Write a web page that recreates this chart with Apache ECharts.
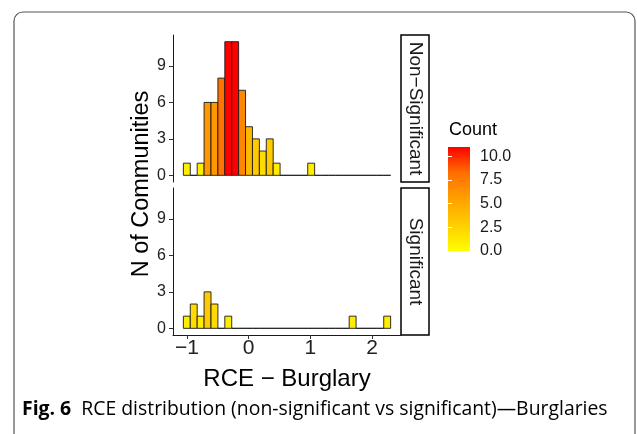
<!DOCTYPE html>
<html>
<head>
<meta charset="utf-8">
<script src="https://cdn.jsdelivr.net/npm/echarts@6/dist/echarts.min.js"></script>
<style>html,body{margin:0;padding:0;background:#fff}#c{width:637px;height:434px}</style>
</head>
<body>
<div id="c"></div>
<script>
// ---- data ----
const binStart = -1.057;
const binWidth = 0.1119;
const countsNonSig = [1,0,1,6,6,8,11,11,7,4,3,2,3,1,0,0,0,0,1,0,0,0,0,0,0,0,0,0,0,0];
const countsSig    = [1,2,1,3,2,0,1,0,0,0,0,0,0,0,0,0,0,0,0,0,0,0,0,0,1,0,0,0,0,1];
const xTicks = [-1, 0, 1, 2];
const yTicks = [0, 3, 6, 9];
const legendTicks = [0, 2.5, 5, 7.5, 10];
const panelNames = ['Non\u2212Significant', 'Significant'];
const countMax = 11;

function bins(counts) {
  return counts.map((c, i) => [binStart + i * binWidth, binStart + (i + 1) * binWidth, c]);
}
const xMin = binStart - 0.05 * binWidth * 30;
const xMax = binStart + 30 * binWidth + 0.05 * binWidth * 30;
const yMin = -0.05 * countMax, yMax = countMax * 1.05;

const FONT = 'Liberation Sans';
const chart = echarts.init(document.getElementById('c'));

function renderItem(params, api) {
  const x0 = api.value(0), x1 = api.value(1), c = api.value(2);
  const p0 = api.coord([x0, c]);
  const p1 = api.coord([x1, 0]);
  return {
    type: 'rect',
    shape: { x: p0[0], y: p0[1], width: p1[0] - p0[0], height: p1[1] - p0[1] },
    style: { fill: api.visual('color'), stroke: '#1a1a1a', lineWidth: 0.9 }
  };
}

const minusFmt = v => String(v).replace('-', '\u2212');

const gridL = 173, gridW = 228;
const yAxisCommon = {
  type: 'value', min: yMin, max: yMax,
  axisLine: { show: true, onZero: false, lineStyle: { color: '#1a1a1a', width: 1 } },
  axisTick: { show: true, length: 4, customValues: yTicks, lineStyle: { color: '#333' } },
  axisLabel: { customValues: yTicks, color: '#222', fontSize: 16, fontFamily: FONT, margin: 7 },
  splitLine: { show: false }
};
const option = {
  animation: false,
  grid: [
    { left: gridL, top: 35, width: gridW, height: 147 },
    { left: gridL, top: 188, width: gridW, height: 147 },
    { left: 448, top: 147, width: 22, height: 104, show: true, borderWidth: 0,
      backgroundColor: new echarts.graphic.LinearGradient(0, 1, 0, 0, [
        { offset: 0, color: '#FFFF00' }, { offset: 0.25, color: '#FFCE00' },
        { offset: 0.5, color: '#FFA100' }, { offset: 0.75, color: '#FF6F00' },
        { offset: 1, color: '#FF0000' }]) }
  ],
  xAxis: [
    { type: 'value', gridIndex: 0, min: xMin, max: xMax, show: false, splitLine: { show: false } },
    { type: 'value', gridIndex: 1, min: xMin, max: xMax,
      axisLine: { show: true, onZero: false, lineStyle: { color: '#1a1a1a', width: 1 } },
      axisTick: { show: true, length: 4, customValues: xTicks, lineStyle: { color: '#333' } },
      axisLabel: { customValues: xTicks, formatter: minusFmt, color: '#222', fontSize: 21, fontFamily: FONT, margin: 3 },
      splitLine: { show: false },
      name: 'RCE \u2212 Burglary', nameLocation: 'middle', nameGap: 32,
      nameTextStyle: { fontSize: 24, color: '#000', fontFamily: FONT } },
    { type: 'value', gridIndex: 2, min: 0, max: 1, show: false }
  ],
  yAxis: [
    Object.assign({ gridIndex: 0 }, yAxisCommon),
    Object.assign({ gridIndex: 1 }, yAxisCommon),
    { type: 'value', gridIndex: 2, min: 0, max: countMax, position: 'right',
      axisLine: { show: false },
      axisTick: { show: true, inside: true, length: 4, customValues: legendTicks, lineStyle: { color: '#fff', width: 1 } },
      axisLabel: { customValues: legendTicks, formatter: v => v.toFixed(1), color: '#1a1a1a', fontSize: 16, fontFamily: FONT, margin: 10 },
      splitLine: { show: false } },
    { type: 'value', gridIndex: 2, min: 0, max: countMax, position: 'left',
      axisLine: { show: false },
      axisTick: { show: true, inside: true, length: 4, customValues: legendTicks, lineStyle: { color: '#fff', width: 1 } },
      axisLabel: { show: false },
      splitLine: { show: false } }
  ],
  visualMap: {
    show: false, type: 'continuous', min: 0, max: countMax, dimension: 2, seriesIndex: [0, 1],
    inRange: { color: ['#FFFF00', '#FFCE00', '#FFA100', '#FF6F00', '#FF0000'] }
  },
  series: [
    { type: 'custom', xAxisIndex: 0, yAxisIndex: 0, renderItem, data: bins(countsNonSig), encode: { x: [0, 1], y: 2 } },
    { type: 'custom', xAxisIndex: 1, yAxisIndex: 1, renderItem, data: bins(countsSig), encode: { x: [0, 1], y: 2 } }
  ],
  graphic: [
    { type: 'rect', shape: { x: 14, y: 12, width: 621, height: 440, r: 9 },
      style: { fill: 'none', stroke: '#555', lineWidth: 1.2 }, silent: true },
    { type: 'text', x: 142, y: 184, rotation: Math.PI / 2,
      style: { text: 'N of Communities', font: '23.5px ' + FONT, fill: '#000', align: 'center', verticalAlign: 'middle' } },
    { type: 'rect', shape: { x: 401, y: 35, width: 28, height: 147 }, style: { fill: '#fff', stroke: '#000', lineWidth: 1.5 } },
    { type: 'rect', shape: { x: 401, y: 188, width: 28, height: 147 }, style: { fill: '#fff', stroke: '#000', lineWidth: 1.5 } },
    { type: 'text', x: 415, y: 108.5, rotation: -Math.PI / 2,
      style: { text: panelNames[0], font: '19px ' + FONT, fill: '#1a1a1a', align: 'center', verticalAlign: 'middle' } },
    { type: 'text', x: 415, y: 261.5, rotation: -Math.PI / 2,
      style: { text: panelNames[1], font: '19px ' + FONT, fill: '#1a1a1a', align: 'center', verticalAlign: 'middle' } },
    { type: 'text', x: 449, y: 130,
      style: { text: 'Count', font: '18px ' + FONT, fill: '#000', align: 'left', verticalAlign: 'middle' } },
    { type: 'text', x: 22, y: 409.5,
      style: { text: '{b|Fig. 6}{n|  RCE distribution (non-significant vs significant)\u2014Burglaries}',
        verticalAlign: 'middle', align: 'left',
        rich: { b: { fontFamily: 'Open Sans', fontWeight: 'bold', fontSize: 19.4, color: '#1a1a1a' },
                n: { fontFamily: 'Open Sans', fontSize: 19.4, color: '#1a1a1a' } } } }
  ]
};
chart.setOption(option);
</script>
</body>
</html>
